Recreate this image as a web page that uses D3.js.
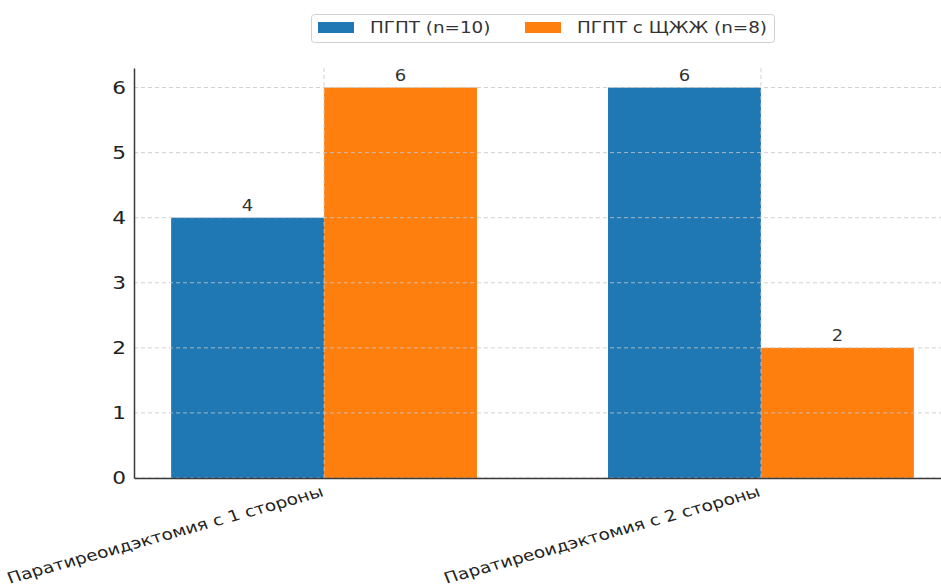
<!DOCTYPE html>
<html lang="ru">
<head>
<meta charset="UTF-8">
<title>ПГПТ</title>
<script src="https://cdn.jsdelivr.net/npm/d3@7"></script>
<style>
  html, body { margin: 0; padding: 0; background: #fff; overflow: hidden; }
  svg { display: block; font-family: "DejaVu Sans", sans-serif; }
</style>
</head>
<body>
<svg id="chart" width="941" height="586"></svg>
<script>
// data
const categories = ["Паратиреоидэктомия с 1 стороны", "Паратиреоидэктомия с 2 стороны"];
const seriesNames = ["ПГПТ (n=10)", "ПГПТ с ЩЖЖ (n=8)"];
const pgpt = [4, 6];
const pgptShzh = [6, 2];
const yTicks = [0, 1, 2, 3, 4, 5, 6];
const colors = ["#1f77b4", "#ff7f0e"];

const series = [pgpt, pgptShzh];
const barW = 0.35;
const sx = 1.2; // the picture is stretched sideways, text too

const svg = d3.select("#chart");

// axes geometry (xlim with 5% margins, right side cut off by the window)
const x = d3.scaleLinear().domain([-0.435, 1.435]).range([134, 951]);
const y = d3.scaleLinear().domain([0, 6.3]).range([478, 68]);

// bars
series.forEach((vals, s) => {
  svg.append("g").selectAll("rect")
    .data(vals)
    .join("rect")
    .attr("x", (d, i) => x(i + (s - 1) * barW))
    .attr("width", x(barW) - x(0))
    .attr("y", d => y(d))
    .attr("height", d => y(0) - y(d))
    .attr("fill", colors[s]);

  svg.append("g").selectAll("text")
    .data(vals)
    .join("text")
    .attr("transform", (d, i) => `translate(${x(i + (s - 0.5) * barW)},${y(d) - 7}) scale(${sx},1)`)
    .attr("text-anchor", "middle")
    .attr("font-size", 15)
    .attr("fill", "#333")
    .text(d => d);
});

// grid (drawn above bars, like the reference)
const grid = svg.append("g")
  .attr("stroke", "#c8c8c8")
  .attr("stroke-dasharray", "4,3")
  .attr("stroke-width", 1)
  .attr("opacity", 0.8);
grid.selectAll("line.h")
  .data(yTicks)
  .join("line")
  .attr("class", "h")
  .attr("x1", x.range()[0]).attr("x2", x.range()[1])
  .attr("y1", d => y(d)).attr("y2", d => y(d));
grid.selectAll("line.v")
  .data(categories.map((c, i) => i))
  .join("line")
  .attr("class", "v")
  .attr("x1", d => x(d)).attr("x2", d => x(d))
  .attr("y1", y.range()[1]).attr("y2", y.range()[0]);

// y axis
const yAxis = svg.append("g")
  .attr("transform", `translate(${x.range()[0]},0)`)
  .call(d3.axisLeft(y).tickValues(yTicks).tickSize(0).tickFormat(d3.format("d")));
yAxis.select(".domain").attr("stroke", "#3a3a3a").attr("stroke-width", 1.5);
yAxis.selectAll("text")
  .attr("x", 0)
  .attr("transform", `translate(-8,0) scale(${sx},1)`)
  .attr("font-size", 18)
  .attr("fill", "#222")
  .attr("font-family", "DejaVu Sans, sans-serif");

// x axis
const xAxis = svg.append("g")
  .attr("transform", `translate(0,${y(0)})`)
  .call(d3.axisBottom(x)
    .tickValues(categories.map((c, i) => i))
    .tickSize(0)
    .tickFormat(i => categories[i]));
xAxis.select(".domain").attr("stroke", "#3a3a3a").attr("stroke-width", 1.5);
xAxis.selectAll("text")
  .attr("font-size", 15.4)
  .attr("fill", "#222")
  .attr("font-family", "DejaVu Sans, sans-serif")
  .attr("text-anchor", "end")
  .attr("dy", null)
  .attr("y", 0)
  .attr("transform", `translate(0,18) scale(${sx},1) rotate(-18.5)`);

// legend
const legend = svg.append("g");
legend.append("rect")
  .attr("x", 311.5).attr("y", 14.5)
  .attr("width", 463).attr("height", 28)
  .attr("rx", 3)
  .attr("fill", "#fff")
  .attr("stroke", "#d0d0d0");
const legX = [318, 525];
seriesNames.forEach((name, s) => {
  legend.append("rect")
    .attr("x", legX[s]).attr("y", 22)
    .attr("width", 36).attr("height", 11)
    .attr("fill", colors[s]);
  legend.append("text")
    .attr("transform", `translate(${legX[s] + 52},33) scale(${sx},1)`)
    .attr("font-size", 15.3)
    .attr("fill", "#333")
    .text(name);
});
</script>
</body>
</html>
